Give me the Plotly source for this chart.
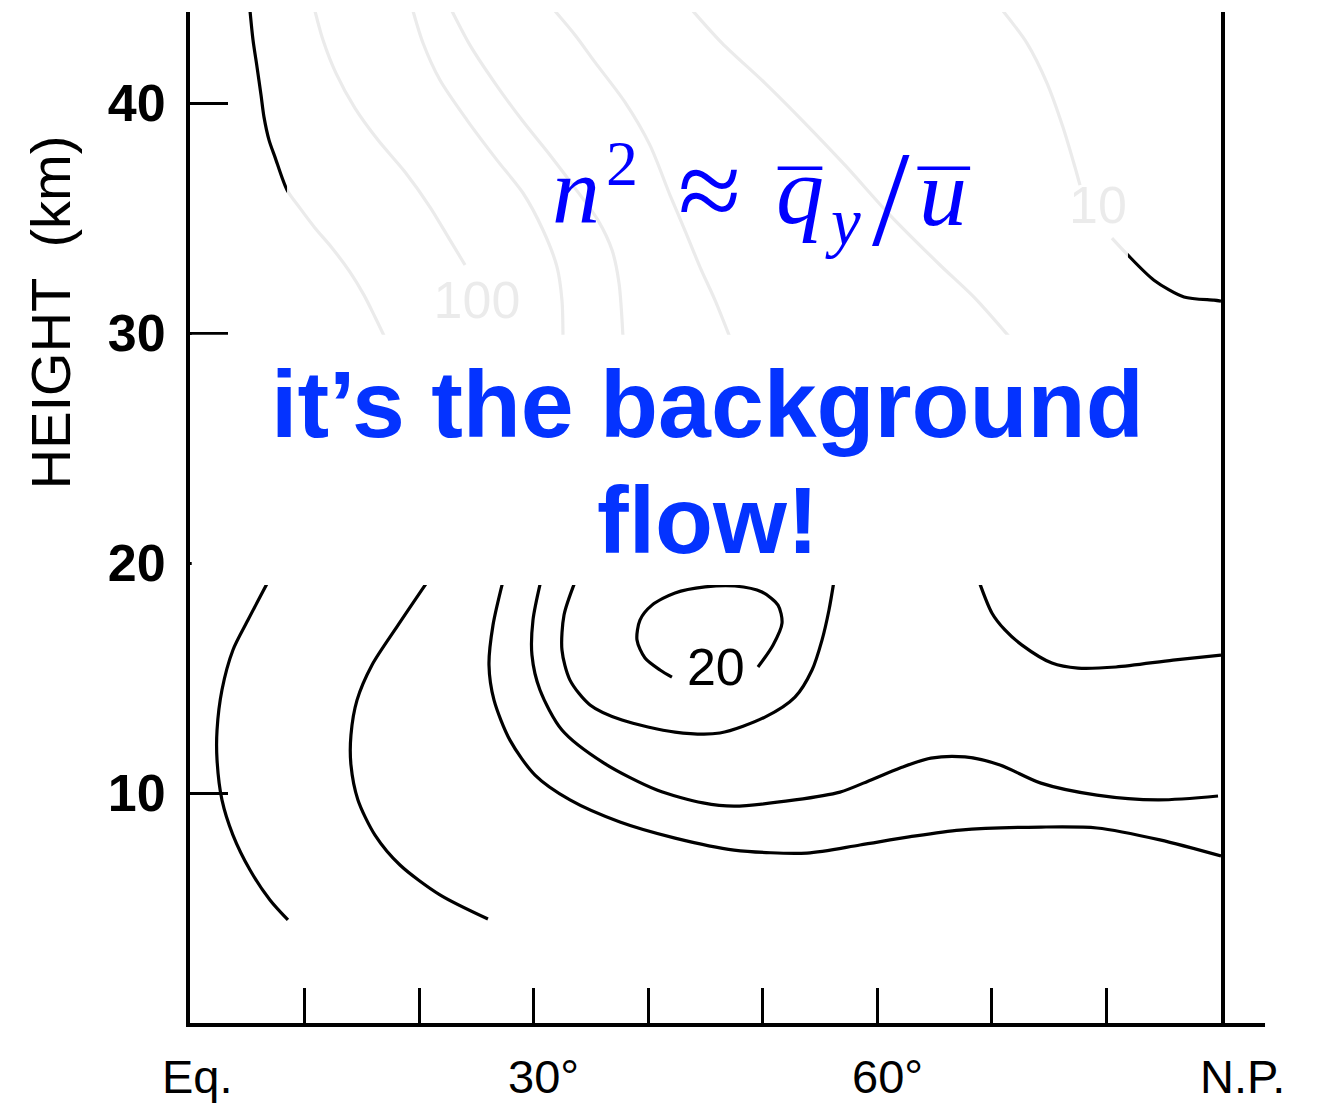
import plotly.graph_objects as go

# ---- contour lines: latitude (deg N) vs height (km) ----
# lower (troposphere / lower stratosphere) contours
A_LAT = [6.8, 5.06, 3.75, 2.79, 2.36, 2.36, 2.79, 3.75, 5.24, 6.98, 8.55]
A_KM = [19.17, 17.52, 16.22, 14.48, 12.74, 11.43, 9.70, 8.17, 6.65, 5.35, 4.48]

B_LAT = [20.7, 18.16, 15.89, 14.58, 14.05, 14.05, 14.66, 16.15, 18.33, 21.82, 26.01]
B_KM = [19.17, 17.30, 15.57, 14.04, 12.52, 11.22, 9.70, 8.17, 6.87, 5.57, 4.52]

C_LAT = [27.3, 26.45, 26.10, 26.54, 27.93, 30.12, 33.17, 37.53, 42.34, 47.49,
         53.86, 58.48, 62.76, 67.21, 74.28, 79.17, 84.67, 90.0]
C_KM = [19.17, 17.30, 15.57, 14.04, 12.30, 10.78, 9.70, 8.74, 8.04, 7.52,
        7.39, 7.74, 8.09, 8.39, 8.52, 8.48, 7.96, 7.26]

D_LAT = [30.6, 29.94, 29.85, 30.55, 32.47, 36.14, 40.76, 44.78, 47.49, 52.81,
         56.74, 59.45, 61.98, 64.68, 67.65, 70.71, 74.28, 79.17, 84.50, 89.74]
D_KM = [19.17, 17.52, 16.0, 14.48, 12.74, 11.30, 10.13, 9.57, 9.43, 9.70,
        10.04, 10.57, 11.09, 11.52, 11.57, 11.22, 10.43, 9.91, 9.70, 9.87]

E_LAT = [33.6, 32.65, 32.47, 33.17, 34.92, 37.71, 42.34, 46.26, 50.19, 52.81,
         54.30, 55.17, 55.78, 56.2]
E_KM = [19.17, 17.74, 16.22, 14.91, 13.83, 13.17, 12.65, 12.61, 13.30, 14.17,
        15.35, 16.65, 17.96, 19.17]

# the "20" contour, open where its label sits
F_LAT = [49.58, 50.89, 51.68, 51.33, 49.93, 47.57, 44.96, 42.34, 40.33, 39.28,
         39.02, 39.72, 41.03, 42.07]
F_KM = [15.48, 16.43, 17.39, 18.17, 18.74, 19.0, 18.96, 18.70, 18.17, 17.52,
        16.65, 15.87, 15.35, 15.04]

G_LAT = [68.9, 70.0, 71.14, 72.63, 75.24, 77.51, 80.83, 85.81, 90.0]
G_KM = [19.17, 17.83, 17.09, 16.43, 15.65, 15.43, 15.48, 15.78, 16.0]

# upper (stratosphere) contours
H_LAT = [5.24, 5.50, 5.85, 6.20, 6.46, 6.90, 7.42, 8.47, 9.60, 10.91, 12.40,
         13.97, 15.19, 16.15, 17.02]
H_KM = [44.0, 42.74, 41.57, 40.35, 39.39, 38.39, 37.65, 36.22, 35.43, 34.57,
        33.70, 32.65, 31.65, 30.70, 29.8]

P_LAT = [10.91, 11.61, 12.74, 14.40, 16.41, 18.77, 20.95, 22.70, 24.01]
P_KM = [44.0, 42.74, 41.30, 39.78, 38.39, 37.0, 35.48, 34.04, 32.96]

Q_LAT = [19.47, 20.34, 21.82, 24.18, 26.80, 29.07, 30.81, 32.04, 32.47, 32.56]
Q_KM = [44.0, 42.61, 41.0, 39.26, 37.52, 36.09, 34.48, 32.87, 31.43, 29.8]

R_LAT = [22.87, 24.44, 26.62, 28.98, 31.42, 33.61, 35.61, 36.84, 37.45, 37.80]
R_KM = [44.0, 42.52, 40.87, 39.26, 37.74, 36.30, 34.91, 33.61, 32.17, 29.8]

S_LAT = [31.86, 33.61, 35.35, 37.97, 40.15, 41.90, 43.30, 44.52, 45.83, 47.14]
S_KM = [44.0, 42.96, 41.78, 40.04, 38.17, 36.0, 34.35, 32.87, 31.43, 29.8]

T_LAT = [43.91, 46.44, 50.19, 53.25, 57.18, 61.10, 65.47, 68.52, 71.58]
T_KM = [44.0, 42.61, 40.87, 39.35, 37.30, 35.13, 32.96, 31.52, 29.8]

# the "10" contour near the pole, split around its label
U1_LAT = [70.97, 73.06, 74.81, 76.20, 77.25, 77.69]
U1_KM = [44.0, 42.61, 40.87, 38.96, 37.22, 36.43]
U2_LAT = [80.48, 81.70, 84.15, 86.77, 89.39, 90.0]
U2_KM = [34.13, 33.48, 32.30, 31.57, 31.43, 31.39]

# contour labels
LABEL_TEXT = ["20", "100", "10"]
LABEL_LAT = [45.9, 25.05, 79.26]
LABEL_KM = [15.26, 31.22, 35.35]

# axes
LAT_TICKS = [0, 10, 20, 30, 40, 50, 60, 70, 80, 90]
LAT_LABEL_VALS = [0, 30, 60, 90]
LAT_LABEL_TEXT = ["Eq.", "30°", "60°", "N.P."]
KM_TICKS = [10, 20, 30, 40]
KM_TICK_TEXT = ["10", "20", "30", "40"]

X_RANGE = [0, 90]
Y_RANGE = [0, 43.96]

CONTOURS = [
    (A_LAT, A_KM), (B_LAT, B_KM), (C_LAT, C_KM), (D_LAT, D_KM), (E_LAT, E_KM),
    (F_LAT, F_KM), (G_LAT, G_KM), (H_LAT, H_KM), (P_LAT, P_KM), (Q_LAT, Q_KM),
    (R_LAT, R_KM), (S_LAT, S_KM), (T_LAT, T_KM), (U1_LAT, U1_KM), (U2_LAT, U2_KM),
]

fig = go.Figure()

for lat, km in CONTOURS:
    fig.add_trace(go.Scatter(
        x=lat, y=km, mode="lines",
        line=dict(color="black", width=3.2, shape="spline", smoothing=0.8),
        hoverinfo="skip", showlegend=False,
    ))

fig.add_trace(go.Scatter(
    x=LABEL_LAT, y=LABEL_KM, mode="text", text=LABEL_TEXT,
    textposition="middle center",
    textfont=dict(family="Liberation Sans, Arial, sans-serif", size=52, color="black"),
    hoverinfo="skip", showlegend=False,
))

BLUE_BOLD = "#0433ff"
BLUE_MATH = "#0000ff"
SERIF = "Liberation Serif, Times New Roman, serif"
SANS = "Liberation Sans, Arial, Helvetica, sans-serif"

shapes = [
    # washed-out upper panel behind the formula
    dict(type="rect", xref="x", yref="y", x0=8.47, x1=81.88, y0=29.85, y1=44.6,
         fillcolor="white", opacity=0.92, line=dict(width=0), layer="above"),
    # solid band behind the headline
    dict(type="rect", xref="x", yref="y", x0=0.15, x1=90.0, y0=19.04, y1=29.93,
         fillcolor="white", opacity=1, line=dict(width=0), layer="above"),
    # bottom axis running past the pole
    dict(type="line", xref="paper", yref="paper", x0=0.99, x1=1.0427, y0=-0.002, y1=-0.002,
         line=dict(color="black", width=4), layer="above"),
    # overbars of q and u
    dict(type="line", xref="x", yref="y", x0=51.3, x1=55.2, y0=37.17, y1=37.17,
         line=dict(color=BLUE_MATH, width=3.5), layer="above"),
    dict(type="line", xref="x", yref="y", x0=63.5, x1=68.1, y0=37.17, y1=37.17,
         line=dict(color=BLUE_MATH, width=3.5), layer="above"),
]

annotations = []

# formula n^2 ≈ q_y / u, set glyph by glyph
math_parts = [
    ("<i>n</i>", 33.69, 36.19, 96),
    ("2", 37.71, 37.37, 64),
    ("≈", 45.39, 36.22, 115),
    ("<i>q</i>", 53.25, 36.19, 96),
    ("<i>y</i>", 57.0, 34.81, 67),
    ("/", 61.19, 35.81, 135),
    ("<i>u</i>", 65.73, 36.10, 96),
]
for txt, xx, yy, sz in math_parts:
    annotations.append(dict(
        text=txt, x=xx, y=yy, xref="x", yref="y", showarrow=False,
        xanchor="center", yanchor="middle",
        font=dict(family=SERIF, size=sz, color=BLUE_MATH),
    ))

# headline
annotations.append(dict(
    text="<b>it’s the background</b>", x=45.2, y=26.91, xref="x", yref="y",
    showarrow=False, xanchor="center", yanchor="middle",
    font=dict(family=SANS, size=95, color=BLUE_BOLD),
))
annotations.append(dict(
    text="<b>flow!</b>", x=45.2, y=21.87, xref="x", yref="y",
    showarrow=False, xanchor="center", yanchor="middle",
    font=dict(family=SANS, size=95, color=BLUE_BOLD),
))

# latitude labels under the axis
label_shift = [7, 10, 10, 21]
for val, txt, dx in zip(LAT_LABEL_VALS, LAT_LABEL_TEXT, label_shift):
    annotations.append(dict(
        text=txt, x=val, y=-0.0525, xref="x", yref="paper", showarrow=False,
        xanchor="center", yanchor="middle", xshift=dx,
        font=dict(family=SANS, size=47, color="black"),
    ))

# vertical axis title
annotations.append(dict(
    text="HEIGHT  (km)", x=-0.1358, y=0.703, xref="paper", yref="paper",
    showarrow=False, textangle=-90, xanchor="center", yanchor="middle",
    font=dict(family=SANS, size=56, color="black"),
))

fig.update_layout(
    width=1317, height=1105,
    margin=dict(l=190, r=96, t=12, b=82, pad=0),
    paper_bgcolor="white", plot_bgcolor="white",
    showlegend=False,
    shapes=shapes,
    annotations=annotations,
)

fig.update_xaxes(
    range=X_RANGE, showgrid=False, zeroline=False,
    showline=True, linecolor="black", linewidth=4,
    ticks="inside", ticklen=35, tickwidth=3, tickcolor="black",
    tickvals=LAT_TICKS, showticklabels=False, fixedrange=True,
)
fig.update_yaxes(
    range=Y_RANGE, showgrid=False, zeroline=False,
    showline=True, mirror=True, linecolor="black", linewidth=4,
    ticks="inside", ticklen=38, tickwidth=3, tickcolor="black",
    tickvals=KM_TICKS, ticktext=KM_TICK_TEXT,
    tickfont=dict(family=SANS, size=52, color="black", weight="bold"),
    ticklabelstandoff=10, fixedrange=True,
)

fig.write_html("out.html", config={"displayModeBar": False})
